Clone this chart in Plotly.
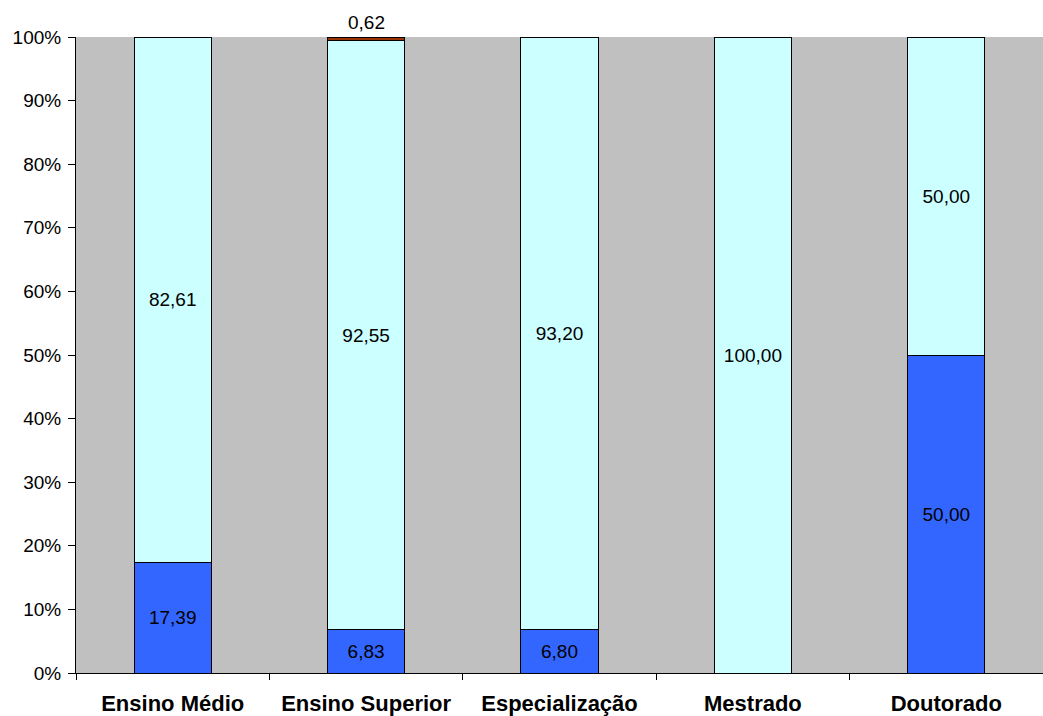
import plotly.graph_objects as go

categories = ["Ensino Médio", "Ensino Superior", "Especialização", "Mestrado", "Doutorado"]
serie_azul = [17.39, 6.83, 6.80, 0.0, 50.00]
serie_ciano = [82.61, 92.55, 93.20, 100.00, 50.00]
serie_marrom = [0.0, 0.62, 0.0, 0.0, 0.0]
y_ticks = list(range(0, 101, 10))


def fmt(v):
    return f"{v:.2f}".replace(".", ",") if v > 0 else ""


FAM = "Liberation Sans, Arial, sans-serif"
font = dict(family=FAM, size=19, color="black")

fig = go.Figure()
for vals, color, show_text in [
    (serie_azul, "#3366FF", True),
    (serie_ciano, "#CCFFFF", True),
    (serie_marrom, "#993300", False),
]:
    fig.add_trace(go.Bar(
        x=categories, y=vals,
        marker=dict(color=color, line=dict(color="black", width=1)),
        text=[fmt(v) for v in vals] if show_text else None,
        textposition="inside", insidetextanchor="middle",
        constraintext="none",
        textfont=font, textangle=0, showlegend=False,
        hoverinfo="skip",
    ))

# outside label for the small series
for c, v, a, b in zip(categories, serie_marrom, serie_azul, serie_ciano):
    if v > 0:
        fig.add_annotation(x=c, y=a + b + v, text=fmt(v), showarrow=False,
                           yanchor="bottom", yshift=2, font=font)

fig.update_layout(
    barmode="stack", bargap=0.6,
    width=1043, height=716,
    margin=dict(l=76, r=0, t=37, b=43),
    plot_bgcolor="#C0C0C0", paper_bgcolor="white",
    font=font,
)
fig.update_xaxes(
    showgrid=False, showline=True, linecolor="black", linewidth=1,
    ticks="outside", tickson="boundaries", ticklen=6, tickcolor="black",
    tickfont=dict(family=FAM, size=22, color="black", weight="bold"),
    ticklabelstandoff=11, automargin=False,
)
fig.update_yaxes(
    range=[0, 100], showgrid=False, showline=True, linecolor="black", linewidth=1,
    ticks="outside", ticklen=7, tickcolor="black",
    tickvals=y_ticks, ticktext=[f"{t}%" for t in y_ticks],
    tickfont=font, zeroline=False, automargin=False, ticklabelstandoff=3,
)
fig.write_html("out.html", config={"displayModeBar": False},
               post_script="document.body.style.margin='0';document.body.style.overflow='hidden';")
